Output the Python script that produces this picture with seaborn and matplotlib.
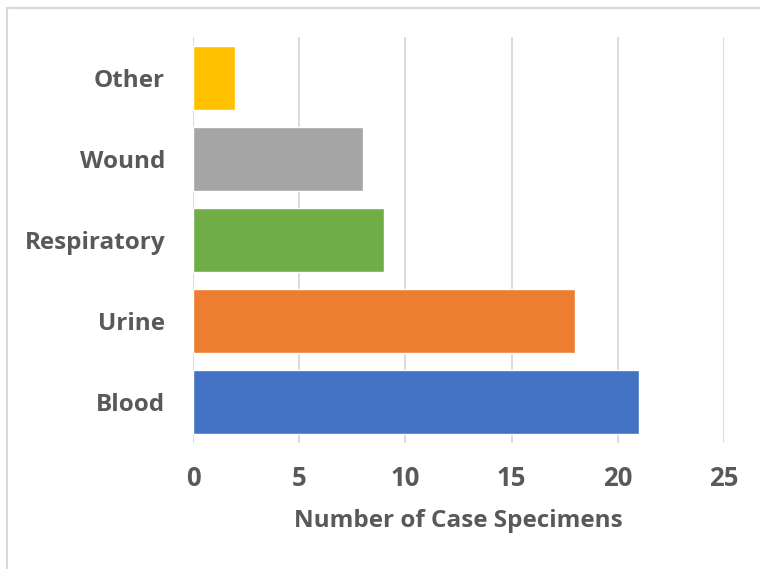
import matplotlib
matplotlib.use("Agg")
import matplotlib.pyplot as plt
import seaborn as sns
import pandas as pd
from matplotlib.patches import Rectangle

# specimen types, top to bottom as shown
specimen_types = ["Other", "Wound", "Respiratory", "Urine", "Blood"]
case_counts = [2, 8, 9, 18, 21]
bar_colors = ["#FFC000", "#A5A5A5", "#70AD47", "#ED7D31", "#4472C4"]
x_ticks = [0, 5, 10, 15, 20, 25]

df = pd.DataFrame({"type": specimen_types, "count": case_counts})

sns.set_style("white")
plt.rcParams["font.family"] = ["Open Sans", "DejaVu Sans"]
text_color = "#595959"

fig = plt.figure(figsize=(7.6, 5.69), dpi=100)
ax = fig.add_axes([193 / 760, 1 - 443 / 569, (724 - 193) / 760, (443 - 37) / 569])

sns.barplot(data=df, x="count", y="type", hue="type", palette=bar_colors,
            order=specimen_types, width=0.79, legend=False, ax=ax, saturation=1)

ax.set_xlim(0, 25)
ax.set_ylim(4.5, -0.5)
ax.set_xticks(x_ticks)
ax.grid(axis="x", color="#D9D9D9", linewidth=1.3)
ax.set_axisbelow(True)
for side in ["top", "right", "bottom", "left"]:
    ax.spines[side].set_visible(False)
ax.tick_params(axis="both", length=0, labelcolor=text_color)
ax.tick_params(axis="x", pad=16, labelsize=18.5)
ax.tick_params(axis="y", pad=20, labelsize=17.5)
for lbl in ax.get_xticklabels() + ax.get_yticklabels():
    lbl.set_fontweight("bold")
ax.set_ylabel("")
ax.set_xlabel("Number of Case Specimens", fontsize=17.5, fontweight="bold",
              color=text_color, labelpad=12)

# outer chart border
fig.patches.append(Rectangle((7 / 760, -0.1), 1.2, 1 - 8 / 569 + 0.1,
                             transform=fig.transFigure, fill=False,
                             edgecolor="#D9D9D9", linewidth=1.5))

fig.savefig("out.png", dpi=100)
